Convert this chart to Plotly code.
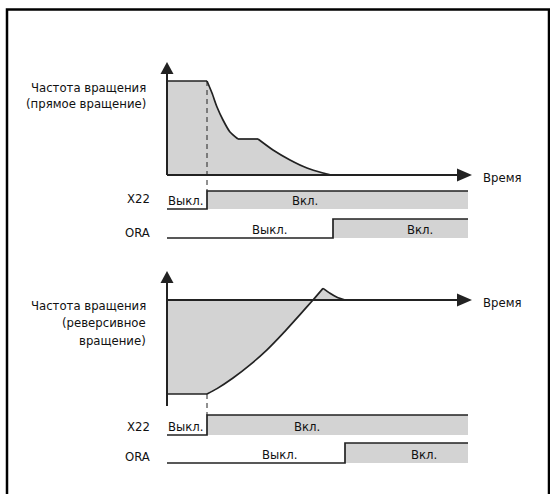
import plotly.graph_objects as go

# time axis: 0 = speed axis origin, X22 switched on at t=40
# speed in % of the starting speed

top_hold_t = [0, 40]
top_hold_speed = [100, 100]
top_decay1_t = [40, 45, 50, 56, 63, 71]
top_decay1_speed = [100, 87.2, 72.3, 58.5, 45.7, 38.3]
top_plateau_t = [71, 91]
top_plateau_speed = [38.3, 38.3]
top_decay2_t = [91, 106, 123, 140, 156, 164]
top_decay2_speed = [38.3, 26.6, 16.0, 7.4, 2.1, 0]

bot_hold_t = [0, 40]
bot_hold_speed = [-100, -100]
bot_rise_t = [40, 50, 66, 83, 100, 116, 133, 146, 156]
bot_rise_speed = [-100, -94.3, -83, -69, -53, -35.5, -15.5, 0, 12.4]
bot_settle_t = [156, 163, 170, 178]
bot_settle_speed = [12.4, 7.1, 2.9, 0]

x22_t = [0, 40, 40, 301]
x22_level = [0, 0, 1, 1]
ora_top_t = [0, 166, 166, 301]
ora_top_level = [0, 0, 1, 1]
ora_bot_t = [0, 178, 178, 301]
ora_bot_level = [0, 0, 1, 1]

GRAY = "#d3d3d3"
LINE = "#222222"
TXT = "#111111"
FONT = "DejaVu Sans Condensed, Liberation Sans Narrow, sans-serif"

fig = go.Figure()


def add_speed(t, s, axis, spline=True):
    fig.add_trace(go.Scatter(
        x=t, y=s, yaxis=axis, mode="lines", fill="tozeroy", fillcolor=GRAY,
        line=dict(color=LINE, width=1.7, shape="spline" if spline else "linear", smoothing=0.6),
        hoverinfo="skip"))


add_speed(top_hold_t, top_hold_speed, "y", False)
add_speed(top_decay1_t, top_decay1_speed, "y")
add_speed(top_plateau_t, top_plateau_speed, "y", False)
add_speed(top_decay2_t, top_decay2_speed, "y")

add_speed(bot_hold_t, bot_hold_speed, "y2", False)
add_speed(bot_rise_t, bot_rise_speed, "y2")
add_speed(bot_settle_t, bot_settle_speed, "y2")


def add_signal(t, level, base, height):
    on = t[level.index(1)]
    fig.add_trace(go.Scatter(
        x=[on, on, t[-1], t[-1]], y=[base, base - height, base - height, base],
        yaxis="y3", mode="lines", fill="toself", fillcolor=GRAY,
        line=dict(width=0), hoverinfo="skip"))
    fig.add_trace(go.Scatter(
        x=t, y=[base - v * height for v in level], yaxis="y3", mode="lines",
        line=dict(color=LINE, width=1.7), hoverinfo="skip"))


add_signal(x22_t, x22_level, 209, 18)
add_signal(ora_top_t, ora_top_level, 238, 19)
add_signal(x22_t, x22_level, 435, 20)
add_signal(ora_bot_t, ora_bot_level, 463, 20)

shapes = []
# frame
shapes.append(dict(type="rect", xref="x", yref="y3", x0=-160, x1=382, y0=9.5, y1=520,
                   line=dict(color="black", width=2.5)))
# axes with arrows
for y0, ytop, ybot in [(175, 62, 175), (300, 271, 406)]:
    shapes.append(dict(type="line", xref="x", yref="y3", x0=0, x1=0, y0=ybot, y1=ytop + 11,
                       line=dict(color=LINE, width=2)))
    shapes.append(dict(type="path", xref="x", yref="y3",
                       path=f"M -6.5 {ytop + 12} L 6.5 {ytop + 12} L 0 {ytop} Z",
                       fillcolor=LINE, line=dict(width=0)))
    shapes.append(dict(type="line", xref="x", yref="y3", x0=0, x1=291, y0=y0, y1=y0,
                       line=dict(color=LINE, width=2)))
    shapes.append(dict(type="path", xref="x", yref="y3",
                       path=f"M 290 {y0 - 6.5} L 290 {y0 + 6.5} L 305 {y0} Z",
                       fillcolor=LINE, line=dict(width=0)))
# dashed markers for X22 switch-on
shapes.append(dict(type="line", xref="x", yref="y3", x0=40, x1=40, y0=81, y1=191,
                   line=dict(color=LINE, width=1, dash="5px,4px")))
shapes.append(dict(type="line", xref="x", yref="y3", x0=40, x1=40, y0=394, y1=415,
                   line=dict(color=LINE, width=1, dash="5px,4px")))

ann = []


def text(s, x, y, anchor="right", size=13):
    ann.append(dict(text=s, x=x, y=y, xref="x", yref="y3", xanchor=anchor, yanchor="middle",
                    showarrow=False, font=dict(family=FONT, size=size, color=TXT)))


text("Частота вращения", -19, 87)
text("(прямое вращение)", -19, 103)
text("Время", 314, 177, "left")
text("X22", -15, 198)
text("ORA", -15, 232)
text("Выкл.", -1, 200, "left")
text("Вкл.", 138, 200, "center")
text("Выкл.", 103, 229, "center")
text("Вкл.", 253, 229, "center")

text("Частота вращения", -19, 305)
text("(реверсивное", -19, 322)
text("вращение)", -19, 340)
text("Время", 314, 302, "left")
text("X22", -15, 426)
text("ORA", -15, 456)
text("Выкл.", -1, 426, "left")
text("Вкл.", 140, 426, "center")
text("Выкл.", 113, 454, "center")
text("Вкл.", 257, 454, "center")

fig.update_layout(
    width=550, height=494, margin=dict(l=0, r=0, t=0, b=0),
    paper_bgcolor="white", plot_bgcolor="white", showlegend=False,
    xaxis=dict(range=[-167, 383], visible=False, fixedrange=True),
    yaxis=dict(range=[-339.36, 186.17], visible=False, fixedrange=True),
    yaxis2=dict(range=[-206.38, 319.15], visible=False, overlaying="y", fixedrange=True),
    yaxis3=dict(range=[494, 0], visible=False, overlaying="y", fixedrange=True),
    shapes=shapes, annotations=ann,
)

fig.write_html("out.html", config={"displayModeBar": False},
               post_script="document.body.style.margin='0';document.body.style.overflow='hidden';")
